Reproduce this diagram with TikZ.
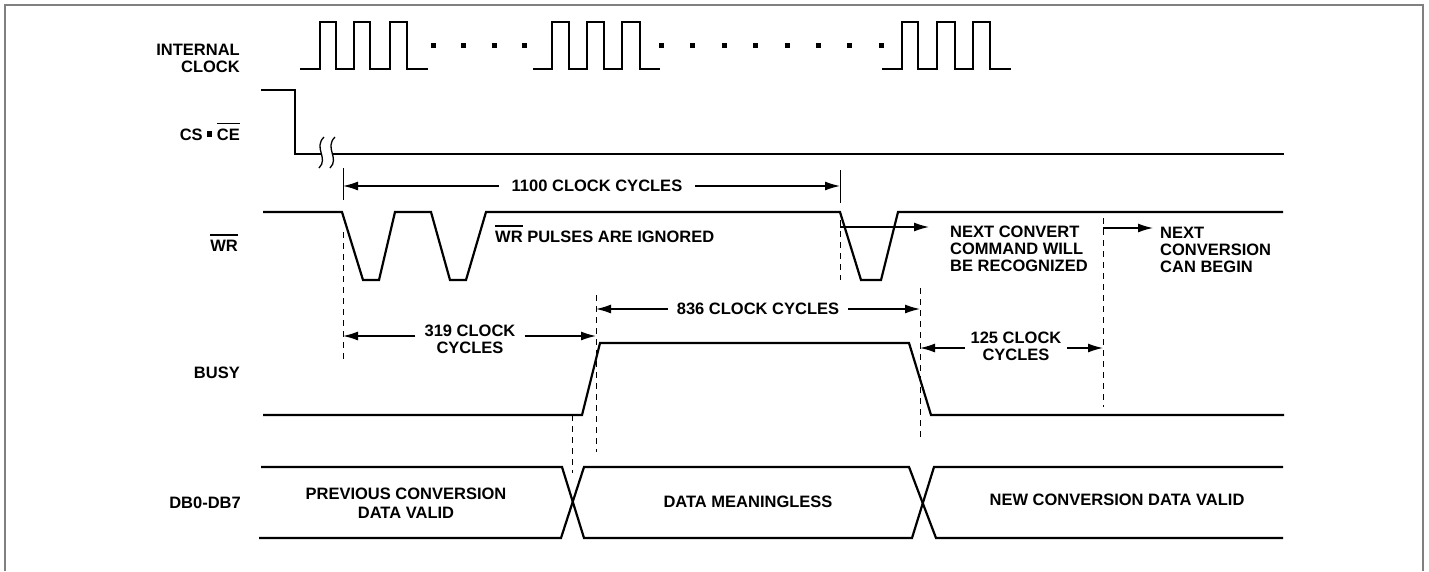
\documentclass[tikz,border=0pt]{standalone}
\usepackage{fontspec}
\setmainfont{Liberation Sans}
\usepackage{tikz}
\usetikzlibrary{arrows.meta}

\newcommand{\sigfont}{\fontsize{16.5}{17}\selectfont\bfseries}
\newcommand{\ovl}[1]{\vbox{\hrule height 1.3pt\kern 4pt\hbox{#1}}}

\begin{document}
\begin{tikzpicture}[x=1pt,y=-1pt,>={Latex[length=15pt,width=9pt]},
  signal/.style={line width=2.2pt,line join=miter},
  guide line/.style={line width=1pt,dash pattern=on 6pt off 5pt},
  dim line/.style={line width=1.3pt,->},
  name node/.style={anchor=east,align=right,inner sep=0pt,font=\sigfont},
  text node/.style={align=center,inner sep=0pt,font=\sigfont},
  dim node/.style={text node,inner ysep=0pt}]

  \useasboundingbox (0,0) rectangle (1429,571);
  \draw[line width=1.5pt,gray] (5,571) -- (5,5) -- (1423,5) -- (1423,571);

  % signal names
  \node[name node] (1) at (240,58.5) {INTERNAL\\CLOCK};
  \node[name node,anchor=base east] (2) at (240,140) {CS \rule[3pt]{5pt}{6pt} \ovl{CE}};
  \node[name node,anchor=base east] (3) at (238,251) {\ovl{WR}};
  \node[name node] (4) at (240,373) {BUSY};
  \node[name node] (5) at (241,503) {DB0-DB7};

  % internal clock
  \draw[signal] (300,69) -- (320,69) -- (320,22) -- (336,22) -- (336,69) -- (354,69) -- (354,22)
    -- (370,22) -- (370,69) -- (390,69) -- (390,22) -- (407,22) -- (407,69) -- (428,69);
  \draw[signal] (533,69) -- (552,69) -- (552,22) -- (569,22) -- (569,69) -- (587,69) -- (587,22)
    -- (604,22) -- (604,69) -- (622,69) -- (622,22) -- (640,22) -- (640,69) -- (660,69);
  \draw[signal] (882,69) -- (902,69) -- (902,22) -- (918,22) -- (918,69) -- (937,69) -- (937,22)
    -- (955,22) -- (955,69) -- (973,69) -- (973,22) -- (990,22) -- (990,69) -- (1011,69);
  \draw[line width=5pt,dash pattern=on 5pt off 25.3pt] (431,45) -- (528,45);
  \draw[line width=5pt,dash pattern=on 5pt off 26.4pt] (659,45) -- (884,45);

  % cs
  \draw[signal] (261,90) -- (295,90) -- (295,154) -- (322,154);
  \draw[signal] (333,154) -- (1284,154);
  \draw[line width=1.3pt] (324,137) .. controls (313,148) and (329,158) .. (319,168);
  \draw[line width=1.3pt] (335,137) .. controls (324,148) and (340,158) .. (330,168);

  % wr
  \draw[signal] (263,212) -- (342,212) -- (363,280) -- (379,280) -- (395,212) -- (431,212) -- (450,280)
    -- (466,280) -- (486,212) -- (840,212) -- (861,280) -- (881,280) -- (898,212) -- (1283,212);

  % busy
  \draw[signal] (263,415) -- (582,415) -- (600,343) -- (909,343) -- (931,415) -- (1284,415);

  % data bus
  \draw[signal] (261,467) -- (562,467) -- (584,538) -- (912,538) -- (934,467) -- (1283,467);
  \draw[signal] (259,538) -- (561,538) -- (584,467) -- (909,467) -- (936,538) -- (1283,538);

  % guides
  \draw[line width=1pt] (343,168) -- (343,200);
  \draw[guide line] (343,232) -- (343,362);
  \draw[line width=1pt] (840,170) -- (840,203);
  \draw[guide line] (840,220) -- (840,280);
  \draw[guide line] (596,295) -- (596,452);
  \draw[guide line] (572,415) -- (572,473);
  \draw[guide line] (920,288) -- (920,437);
  \draw[guide line] (1103,218) -- (1103,407);

  % timing labels
  \coordinate (7l) at (343,186);
  \coordinate (7r) at (840,186);
  \coordinate (8l) at (343,336);
  \coordinate (8r) at (596,336);
  \coordinate (9l) at (596,309);
  \coordinate (9r) at (920,309);
  \coordinate (10l) at (920,348);
  \coordinate (10r) at (1103,348);
  \coordinate (11s) at (840,227);
  \coordinate (12s) at (1103,228);

  \node[text node,anchor=base west] (6) at (495,242) {\ovl{WR} PULSES ARE IGNORED};
  \node[dim node,inner xsep=13pt] (7) at (597,186) {1100 CLOCK CYCLES};
  \node[dim node,inner xsep=9pt] (8) at (470,339.5) {319 CLOCK\\CYCLES};
  \node[dim node,inner xsep=9pt] (9) at (758,309) {836 CLOCK CYCLES};
  \node[dim node,inner xsep=5pt] (10) at (1016,346) {125 CLOCK\\CYCLES};
  \node[text node,anchor=west,align=left] (11) at (950,248.5) {NEXT CONVERT\\COMMAND WILL\\BE RECOGNIZED};
  \node[text node,anchor=west,align=left] (12) at (1160,250) {NEXT\\CONVERSION\\CAN BEGIN};
  \node[text node,font=\fontsize{16.5}{19}\selectfont\bfseries] (13) at (406,503.5) {PREVIOUS CONVERSION\\DATA VALID};
  \node[text node] (14) at (748,502) {DATA MEANINGLESS};
  \node[text node] (15) at (1117,500) {NEW CONVERSION DATA VALID};

  \path[dim line]
    (7) edge (7l)
    (7) edge (7r)
    (8.west |- 8l) edge (8l)
    (8.east |- 8r) edge (8r)
    (9) edge (9l)
    (9) edge (9r)
    (10.west |- 10l) edge (10l)
    (10.east |- 10r) edge (10r)
    (11s) edge[shorten >=21pt] (11s -| 11.west)
    (12s) edge[shorten >=7pt] (12s -| 12.west);
\end{tikzpicture}
\end{document}
